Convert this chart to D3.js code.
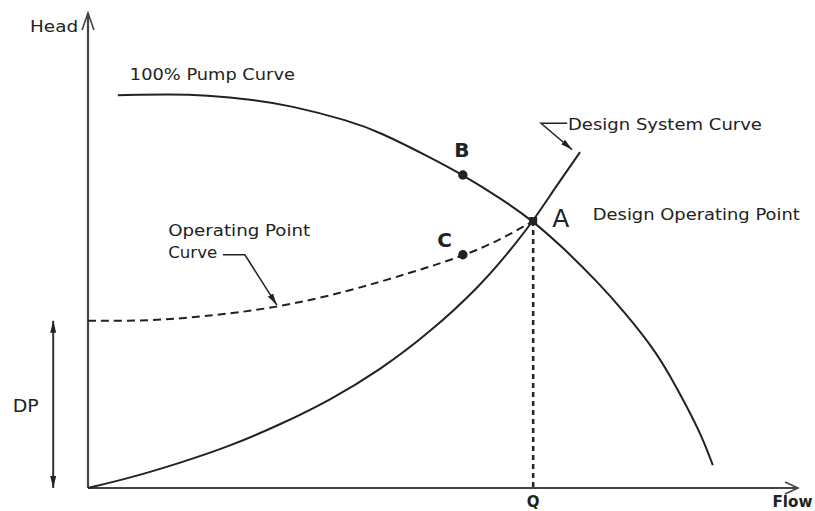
<!DOCTYPE html>
<html>
<head>
<meta charset="utf-8">
<script src="https://cdn.jsdelivr.net/npm/d3@7"></script>
<style>
  body { margin: 0; background: #fff; }
  svg text { font-family: "DejaVu Sans", sans-serif; fill: #222; }
</style>
</head>
<body>
<div id="chart"></div>
<script>
// values (flow, head in arbitrary 0..100 units)
var pumpFlow = [4.2, 11.7, 16.5, 23.5, 28.2, 36.9, 41.1, 48.2, 52.8, 58.0, 62.7, 66.9, 71.7, 75.6, 79.6, 82.0, 84.4, 86.6, 88.0];
var pumpHead = [82.7, 82.9, 82.7, 81.7, 80.6, 77.3, 74.9, 69.6, 65.9, 61.1, 56.2, 50.6, 43.5, 37.0, 29.5, 23.6, 17.0, 10.4, 4.8];

var systemFlow = [0, 5.9, 13.0, 20.0, 27.0, 34.1, 41.1, 48.2, 55.2, 59.4, 62.7, 65.8, 69.3];
var systemHead = [0, 2.1, 5.3, 8.8, 13.3, 18.5, 24.8, 32.8, 42.5, 49.9, 56.2, 63.2, 70.7];

var opFlow = [0, 8.7, 15.8, 26.6, 36.9, 45.4, 52.8, 58.0, 62.7];
var opHead = [35.2, 35.2, 36.0, 37.9, 41.5, 45.3, 48.8, 52.2, 56.2];

var pointNames = ['A', 'B', 'C'];
var pointFlow = [62.7, 52.8, 52.8];
var pointHead = [56.2, 65.9, 49.1];

var designFlowQ = 62.7;
var deltaP = 35.2;

var width = 815, height = 511;
var ink = '#222';

var x = d3.scaleLinear().domain([0, 100]).range([88, 798]);
var y = d3.scaleLinear().domain([0, 100]).range([488, 13]);

var svg = d3.select('#chart').append('svg')
    .attr('width', width)
    .attr('height', height);

var defs = svg.append('defs');
defs.append('marker')
    .attr('id', 'tip')
    .attr('viewBox', '0 0 12 6')
    .attr('refX', 12).attr('refY', 3)
    .attr('markerWidth', 12).attr('markerHeight', 6)
    .attr('markerUnits', 'userSpaceOnUse')
    .attr('orient', 'auto-start-reverse')
    .append('path')
    .attr('d', 'M0,0 L12,3 L0,6 Z')
    .attr('fill', ink);

function zip(xs, ys) {
  return xs.map(function (d, i) { return [d, ys[i]]; });
}

var line = d3.line()
    .x(function (d) { return x(d[0]); })
    .y(function (d) { return y(d[1]); })
    .curve(d3.curveBasis);

//
// axes: plain lines with open chevrons
//
var axes = svg.append('g').attr('stroke', '#444').attr('stroke-width', 2.2).attr('fill', 'none');
axes.append('line')
    .attr('x1', x(0)).attr('y1', y(0))
    .attr('x2', x(0)).attr('y2', y(100));
axes.append('line')
    .attr('x1', x(0)).attr('y1', y(0))
    .attr('x2', x(100)).attr('y2', y(0));
axes.append('path')
    .attr('stroke-width', 1.6)
    .attr('d', 'M' + (x(0) - 6) + ',' + (y(100) + 17) + 'L' + x(0) + ',' + y(100) + 'L' + (x(0) + 6) + ',' + (y(100) + 17));
axes.append('path')
    .attr('stroke-width', 1.6)
    .attr('d', 'M' + (x(100) - 13) + ',' + (y(0) - 6) + 'L' + x(100) + ',' + y(0) + 'L' + (x(100) - 13) + ',' + (y(0) + 6));

//
// curves
//
svg.append('path')
    .datum(zip(pumpFlow, pumpHead))
    .attr('d', line)
    .attr('fill', 'none').attr('stroke', ink).attr('stroke-width', 2);

svg.append('path')
    .datum(zip(systemFlow, systemHead))
    .attr('d', line)
    .attr('fill', 'none').attr('stroke', ink).attr('stroke-width', 2);

svg.append('path')
    .datum(zip(opFlow, opHead))
    .attr('d', line)
    .attr('fill', 'none').attr('stroke', ink).attr('stroke-width', 2)
    .attr('stroke-dasharray', '8,5');

// Q drop line
svg.append('line')
    .attr('x1', x(designFlowQ)).attr('y1', y(pointHead[0]))
    .attr('x2', x(designFlowQ)).attr('y2', y(0))
    .attr('stroke', ink).attr('stroke-width', 2.5)
    .attr('stroke-dasharray', '5,4');

// DP double arrow
svg.append('line')
    .attr('x1', x(-4.9)).attr('y1', y(deltaP))
    .attr('x2', x(-4.9)).attr('y2', y(0))
    .attr('stroke', '#333').attr('stroke-width', 2)
    .attr('marker-start', 'url(#tip)')
    .attr('marker-end', 'url(#tip)');

//
// points
//
svg.selectAll('path.pt')
    .data(pointNames)
    .enter()
    .append('path')
    .attr('class', 'pt')
    .attr('transform', function (d, i) { return 'translate(' + x(pointFlow[i]) + ',' + y(pointHead[i]) + ')'; })
    .attr('d', function (d) {
      return d3.symbol().type(d === 'A' ? d3.symbolSquare : d3.symbolCircle).size(d === 'A' ? 64 : 70)();
    })
    .attr('fill', ink);

//
// leaders
//
var leaders = [
  [[67.5, 76.8], [63.8, 76.8], [68.2, 71.2]],
  [[19.0, 49.1], [22.1, 49.1], [26.6, 38.5]]
];
svg.selectAll('path.leader')
    .data(leaders)
    .enter()
    .append('path')
    .attr('class', 'leader')
    .attr('d', d3.line().x(function (d) { return x(d[0]); }).y(function (d) { return y(d[1]); }))
    .attr('fill', 'none').attr('stroke', ink).attr('stroke-width', 1.5)
    .attr('marker-end', 'url(#tip)');

//
// labels
//
var labels = [
  {t: 'Head', fx: -1.4, fy: 96.0, size: 15, anchor: 'end', len: 48},
  {t: '100% Pump Curve', fx: 5.9, fy: 85.9, size: 15, len: 165},
  {t: 'Design System Curve', fx: 67.6, fy: 75.4, size: 15, len: 194},
  {t: 'Design Operating Point', fx: 71.1, fy: 56.5, size: 15, len: 207},
  {t: 'Operating Point', fx: 11.3, fy: 53.1, size: 15, len: 142},
  {t: 'Curve', fx: 11.3, fy: 48.5, size: 15, len: 49},
  {t: 'B', fx: 51.6, fy: 69.7, size: 20, weight: 'bold'},
  {t: 'C', fx: 49.2, fy: 50.7, size: 20, weight: 'bold'},
  {t: 'A', fx: 65.4, fy: 54.9, size: 25},
  {t: 'DP', fx: -10.6, fy: 16.0, size: 17, len: 26},
  {t: 'Q', fx: designFlowQ, fy: -4.1, size: 15, anchor: 'middle', weight: 'bold'},
  {t: 'Flow', fx: 96.4, fy: -4.1, size: 15, weight: 'bold', len: 40}
];

svg.selectAll('text.lbl')
    .data(labels)
    .enter()
    .append('text')
    .attr('class', 'lbl')
    .attr('x', function (d) { return x(d.fx); })
    .attr('y', function (d) { return y(d.fy); })
    .attr('text-anchor', function (d) { return d.anchor || 'start'; })
    .attr('font-size', function (d) { return d.size; })
    .attr('font-weight', function (d) { return d.weight || 'normal'; })
    .each(function (d) {
      if (d.len) d3.select(this).attr('textLength', d.len).attr('lengthAdjust', 'spacingAndGlyphs');
    })
    .text(function (d) { return d.t; });
</script>
</body>
</html>
